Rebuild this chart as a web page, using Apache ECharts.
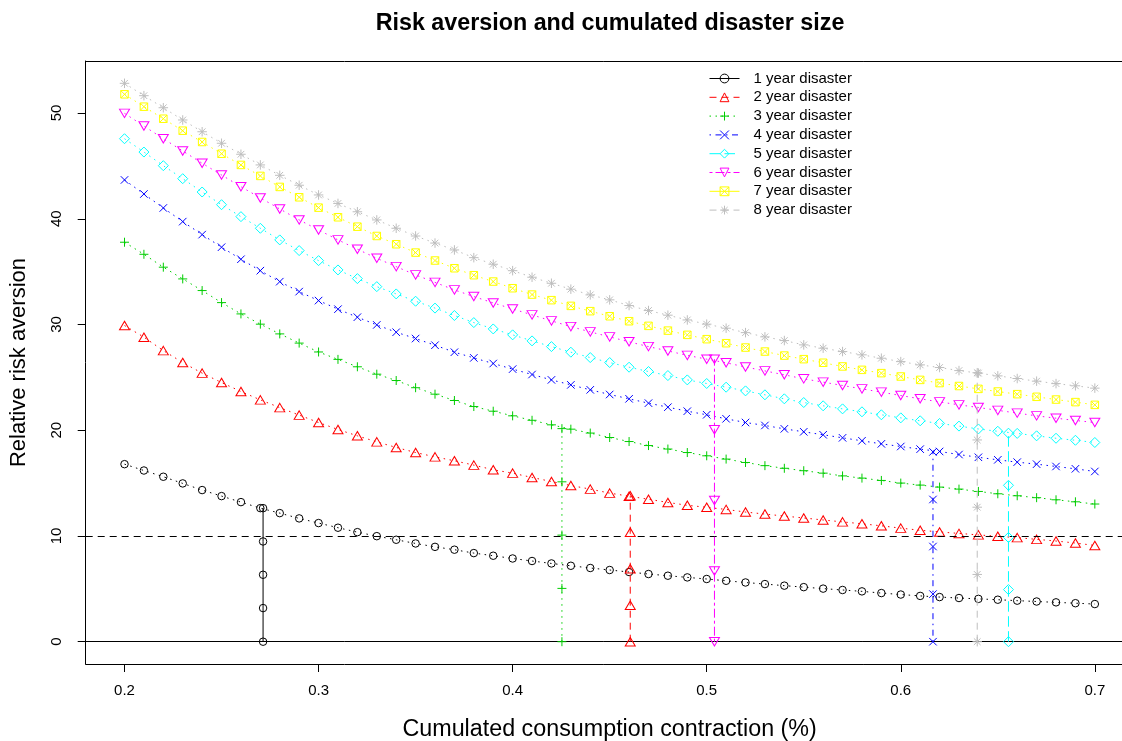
<!DOCTYPE html>
<html>
<head>
<meta charset="utf-8">
<script src="https://cdn.jsdelivr.net/npm/echarts@6/dist/echarts.min.js"></script>
<style>
  html, body { margin: 0; padding: 0; background: #fff; }
  #chart { width: 1122px; height: 741px; }
</style>
</head>
<body>
<div id="chart"></div>
<script>
// Cumulated consumption contraction (x) at which risk aversion is evaluated
const contraction = [0.20, 0.21, 0.22, 0.23, 0.24, 0.25, 0.26, 0.27, 0.28, 0.29,
  0.30, 0.31, 0.32, 0.33, 0.34, 0.35, 0.36, 0.37, 0.38, 0.39,
  0.40, 0.41, 0.42, 0.43, 0.44, 0.45, 0.46, 0.47, 0.48, 0.49,
  0.50, 0.51, 0.52, 0.53, 0.54, 0.55, 0.56, 0.57, 0.58, 0.59,
  0.60, 0.61, 0.62, 0.63, 0.64, 0.65, 0.66, 0.67, 0.68, 0.69, 0.70];

// Relative risk aversion for each disaster length
const disaster1 = [16.79, 16.19, 15.60, 14.97, 14.34, 13.77, 13.20, 12.63, 12.16, 11.66,
  11.22, 10.78, 10.36, 9.98, 9.64, 9.29, 8.97, 8.70, 8.38, 8.13,
  7.87, 7.63, 7.40, 7.18, 6.97, 6.78, 6.59, 6.40, 6.24, 6.08,
  5.93, 5.76, 5.60, 5.45, 5.30, 5.16, 5.02, 4.89, 4.76, 4.60,
  4.46, 4.33, 4.22, 4.13, 4.05, 3.97, 3.88, 3.80, 3.72, 3.64, 3.56];
const disaster2 = [29.90, 28.80, 27.53, 26.40, 25.40, 24.51, 23.66, 22.87, 22.14, 21.43,
  20.73, 20.07, 19.47, 18.90, 18.37, 17.89, 17.48, 17.11, 16.70, 16.26,
  15.94, 15.53, 15.15, 14.77, 14.43, 14.05, 13.76, 13.47, 13.17, 12.90,
  12.71, 12.51, 12.26, 12.07, 11.88, 11.70, 11.51, 11.33, 11.15, 10.96,
  10.74, 10.54, 10.38, 10.24, 10.10, 9.97, 9.84, 9.68, 9.52, 9.33, 9.10];
const disaster3 = [37.78, 36.64, 35.42, 34.31, 33.21, 32.07, 31.00, 30.03, 29.11, 28.24,
  27.40, 26.70, 26.00, 25.30, 24.70, 24.02, 23.41, 22.81, 22.24, 21.80,
  21.36, 20.94, 20.51, 20.10, 19.73, 19.31, 18.93, 18.55, 18.22, 17.89,
  17.58, 17.27, 16.95, 16.65, 16.40, 16.17, 15.94, 15.68, 15.47, 15.25,
  15.00, 14.81, 14.62, 14.43, 14.21, 13.99, 13.80, 13.62, 13.42, 13.23, 13.02];
const disaster4 = [43.67, 42.34, 41.02, 39.73, 38.50, 37.31, 36.17, 35.09, 34.05, 33.11,
  32.26, 31.45, 30.69, 29.96, 29.27, 28.67, 28.04, 27.38, 26.84, 26.31,
  25.78, 25.27, 24.76, 24.29, 23.82, 23.38, 22.97, 22.56, 22.18, 21.80,
  21.46, 21.08, 20.73, 20.45, 20.13, 19.85, 19.57, 19.28, 19.00, 18.71,
  18.46, 18.21, 17.99, 17.70, 17.44, 17.20, 16.98, 16.79, 16.57, 16.35, 16.10];
const disaster5 = [47.57, 46.31, 45.02, 43.79, 42.53, 41.33, 40.20, 39.10, 38.00, 36.99,
  36.04, 35.16, 34.34, 33.58, 32.89, 32.20, 31.55, 30.85, 30.18, 29.58,
  29.02, 28.45, 27.91, 27.38, 26.87, 26.40, 25.96, 25.55, 25.17, 24.76,
  24.42, 24.07, 23.72, 23.35, 22.97, 22.62, 22.31, 22.02, 21.74, 21.46,
  21.17, 20.89, 20.64, 20.39, 20.12, 19.90, 19.70, 19.47, 19.24, 19.05, 18.84];
const disaster6 = [49.97, 48.77, 47.57, 46.41, 45.25, 44.14, 43.03, 41.97, 40.93, 39.89,
  38.94, 38.00, 37.12, 36.26, 35.47, 34.69, 33.98, 33.27, 32.64, 32.04,
  31.47, 30.91, 30.34, 29.80, 29.30, 28.83, 28.36, 27.91, 27.50, 27.08,
  26.72, 26.38, 25.98, 25.61, 25.24, 24.86, 24.55, 24.23, 23.91, 23.60,
  23.28, 22.97, 22.68, 22.40, 22.15, 21.88, 21.62, 21.36, 21.14, 20.92, 20.73];
const disaster7 = [51.77, 50.60, 49.46, 48.33, 47.26, 46.15, 45.09, 44.05, 43.01, 42.03,
  41.05, 40.14, 39.25, 38.37, 37.59, 36.80, 36.05, 35.32, 34.66, 34.06,
  33.43, 32.83, 32.30, 31.76, 31.26, 30.78, 30.31, 29.87, 29.42, 29.02,
  28.61, 28.23, 27.82, 27.44, 27.06, 26.72, 26.38, 26.03, 25.71, 25.40,
  25.08, 24.76, 24.46, 24.18, 23.91, 23.66, 23.41, 23.16, 22.90, 22.66, 22.40];
const disaster8 = [52.81, 51.64, 50.50, 49.34, 48.23, 47.14, 46.10, 45.09, 44.11, 43.17,
  42.25, 41.45, 40.66, 39.89, 39.10, 38.37, 37.70, 37.05, 36.32, 35.70,
  35.09, 34.47, 33.90, 33.34, 32.80, 32.33, 31.79, 31.32, 30.88, 30.43,
  30.03, 29.65, 29.23, 28.83, 28.48, 28.07, 27.76, 27.44, 27.13, 26.81,
  26.49, 26.18, 25.93, 25.64, 25.40, 25.14, 24.89, 24.64, 24.41, 24.20, 23.98];

// Contraction where each disaster length reaches its threshold (none for 7 years in range)
const thresholdX = [0.2714, 0.4606, 0.4254, 0.6166, 0.6555, 0.5040, null, 0.6394];
// Points drawn along each vertical threshold line
const thresholdY = [
  [0, 3.18, 6.33, 9.48, 12.63],
  [0, 3.45, 6.90, 10.35, 13.80],
  [0, 5.04, 10.08, 15.12, 20.15],
  [0, 4.50, 9.00, 13.45, 17.95],
  [0, 4.93, 9.86, 14.79, 19.72],
  [0, 6.68, 13.36, 20.04, 26.72],
  null,
  [0, 6.36, 12.72, 19.08, 25.44]
];

const seriesNames = ['1 year disaster', '2 year disaster', '3 year disaster', '4 year disaster',
  '5 year disaster', '6 year disaster', '7 year disaster', '8 year disaster'];
const xTicks = [0.2, 0.3, 0.4, 0.5, 0.6, 0.7];
const xTickLabels = ['0.2', '0.3', '0.4', '0.5', '0.6', '0.7'];
const yTicks = [0, 10, 20, 30, 40, 50];
const yTickLabels = ['0', '10', '20', '30', '40', '50'];
const refLevels = [0, 10];

const allValues = [disaster1, disaster2, disaster3, disaster4, disaster5, disaster6, disaster7, disaster8];

// R-like palette, plotting symbols and line types
const colors = ['#000000', '#ff0000', '#00cd00', '#0000ff', '#00ffff', '#ff00ff', '#ffff00', '#bebebe'];
const symbols = [
  'circle',
  'triangle',
  'path://M10,0L10,20M0,10L20,10',
  'path://M0,0L20,20M20,0L0,20',
  'diamond',
  'triangle',
  'path://M0,0L20,0L20,20L0,20ZM0,0L20,20M20,0L0,20',
  'path://M10,0L10,20M0,10L20,10M3,3L17,17M17,3L3,17'
];
const symbolRotate = [0, 0, 0, 0, 0, 180, 0, 0];
const symbolSizes = [[7.5, 7.5], [10, 8.5], [9, 9], [7.5, 7.5], [10, 10], [10, 8.5], [7.5, 7.5], [9.5, 9.5]];
const dash = {
  solid: 'solid',
  dashed: [7, 5],
  dotted: [1.5, 4.5],
  dotdash: [1.5, 4.5, 6, 4.5],
  longdash: [10.5, 4.5],
  twodash: [3, 3, 9, 3]
};
const ltys = [dash.solid, dash.dashed, dash.dotted, dash.dotdash, dash.longdash, dash.twodash, dash.solid, dash.dashed];

const FONT = '"Liberation Sans", Arial, Helvetica, sans-serif';

// The plot box runs past the right edge of the page, so the x range is cut at 0.714
const X_MIN = 0.18;
const X_MAX = 0.714;

function markerStyle(i) {
  return { color: 'rgba(255,255,255,0)', borderColor: colors[i], borderWidth: 1 };
}

const series = [];
allValues.forEach((vals, i) => {
  series.push({
    name: seriesNames[i],
    type: 'line',
    data: contraction.map((x, j) => [x, vals[j]]),
    symbol: symbols[i],
    symbolSize: symbolSizes[i],
    symbolRotate: symbolRotate[i],
    showAllSymbol: true,
    itemStyle: markerStyle(i),
    lineStyle: { color: colors[i], width: 1, type: dash.dotted },
    z: 3 + i,
    silent: true
  });
});

thresholdX.forEach((x, i) => {
  if (x === null) return;
  series.push({
    name: seriesNames[i] + ' threshold',
    type: 'line',
    data: thresholdY[i].map(v => [x, v]),
    symbol: symbols[i],
    symbolSize: symbolSizes[i],
    symbolRotate: symbolRotate[i],
    showAllSymbol: true,
    itemStyle: markerStyle(i),
    lineStyle: { color: colors[i], width: 1, type: ltys[i] },
    z: 12 + i,
    silent: true
  });
});

// Horizontal reference lines at 0 (solid) and 10 (dashed)
series.push({
  name: 'reference',
  type: 'line',
  data: [],
  silent: true,
  markLine: {
    silent: true,
    symbol: 'none',
    label: { show: false },
    animation: false,
    data: [
      { yAxis: refLevels[0], lineStyle: { color: '#000', width: 1, type: 'solid' } },
      { yAxis: refLevels[1], lineStyle: { color: '#000', width: 1, type: [7, 5] } }
    ]
  },
  z: 2
});

const chart = echarts.init(document.getElementById('chart'), null, { renderer: 'canvas' });
chart.setOption({
  animation: false,
  backgroundColor: '#ffffff',
  textStyle: { fontFamily: FONT },
  title: {
    text: 'Risk aversion and cumulated disaster size',
    left: 605,
    textAlign: 'center',
    top: 7,
    textStyle: { fontFamily: FONT, fontSize: 23.3, fontWeight: 'bold', color: '#000' }
  },
  legend: {
    orient: 'vertical',
    left: 709,
    top: 71,
    padding: 0,
    itemWidth: 30,
    itemHeight: 11,
    itemGap: 3.8,
    selectedMode: false,
    textStyle: { fontFamily: FONT, fontSize: 15, color: '#000', lineHeight: 15, padding: [0, 0, 0, 9] },
    data: seriesNames.map((n, i) => ({
      name: n,
      lineStyle: { color: colors[i], width: 1, type: ltys[i] },
      itemStyle: markerStyle(i)
    }))
  },
  grid: {
    left: 85.7,
    right: 0,
    top: 61,
    bottom: 77,
    show: false,
    containLabel: false,
    outerBoundsMode: 'none'
  },
  xAxis: [{
    type: 'value',
    min: X_MIN,
    max: X_MAX,
    name: 'Cumulated consumption contraction (%)',
    nameLocation: 'middle',
    nameGap: 54,
    nameTextStyle: { fontFamily: FONT, fontSize: 23.3, color: '#000', padding: [0, 0, 0, 11.6] },
    axisLine: { show: true, onZero: false, lineStyle: { color: '#000', width: 1 } },
    axisTick: { show: true, length: 8, customValues: xTicks, lineStyle: { color: '#000' } },
    axisLabel: {
      customValues: xTicks,
      margin: 19,
      fontFamily: FONT,
      fontSize: 15,
      color: '#000',
      formatter: v => xTickLabels[xTicks.findIndex(t => Math.abs(t - v) < 1e-9)]
    },
    splitLine: { show: false }
  }, {
    // top edge of the plot box
    type: 'value',
    position: 'top',
    min: X_MIN,
    max: X_MAX,
    axisLine: { show: true, onZero: false, lineStyle: { color: '#000', width: 1 } },
    axisTick: { show: false },
    axisLabel: { show: false },
    splitLine: { show: false }
  }],
  yAxis: {
    type: 'value',
    min: -2.11,
    max: 54.92,
    name: 'Relative risk aversion',
    nameLocation: 'middle',
    nameGap: 56,
    nameTextStyle: { fontFamily: FONT, fontSize: 22, color: '#000' },
    axisLine: { show: true, onZero: false, lineStyle: { color: '#000', width: 1 } },
    axisTick: { show: true, length: 8, customValues: yTicks, lineStyle: { color: '#000' } },
    axisLabel: {
      customValues: yTicks,
      rotate: 90,
      margin: 21,
      fontFamily: FONT,
      fontSize: 15,
      color: '#000',
      formatter: v => yTickLabels[yTicks.indexOf(v)]
    },
    splitLine: { show: false }
  },
  series: series
});
</script>
</body>
</html>
